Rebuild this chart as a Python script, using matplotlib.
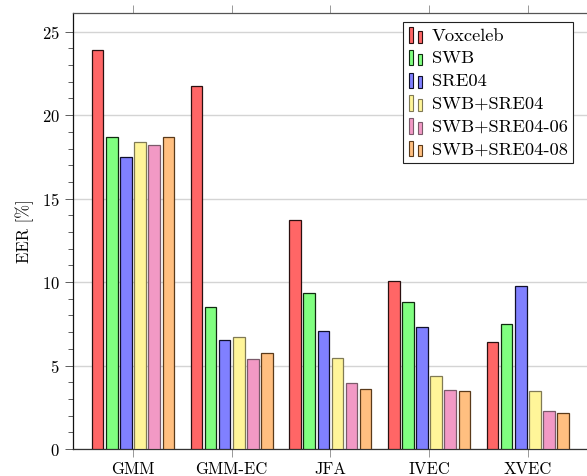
import matplotlib.pyplot as plt
from matplotlib.legend_handler import HandlerBase
from matplotlib.patches import Rectangle
import numpy as np

plt.rcParams['font.family'] = 'serif'
plt.rcParams['font.serif'] = ['cmr10', 'DejaVu Serif']
plt.rcParams['mathtext.fontset'] = 'cm'
plt.rcParams['axes.formatter.use_mathtext'] = True

# data
systems = ['GMM', 'GMM-EC', 'JFA', 'IVEC', 'XVEC']
series = ['Voxceleb', 'SWB', 'SRE04', 'SWB+SRE04', 'SWB+SRE04-06', 'SWB+SRE04-08']
voxceleb = [23.9, 21.77, 13.70, 10.05, 6.40]
swb = [18.72, 8.52, 9.33, 8.79, 7.48]
sre04 = [17.52, 6.52, 7.06, 7.30, 9.78]
swb_sre04 = [18.42, 6.68, 5.48, 4.37, 3.47]
swb_sre04_06 = [18.24, 5.38, 3.95, 3.53, 2.30]
swb_sre04_08 = [18.72, 5.76, 3.59, 3.47, 2.15]
values = [voxceleb, swb, sre04, swb_sre04, swb_sre04_06, swb_sre04_08]

colors = ['#ff6666', '#80ff80', '#8080ff', '#fff599', '#f299c5', '#ffbf80']
edges = ['#2a1010', '#102a10', '#10102a', '#807a55', '#7a5a6a', '#5a3a1a']


class TwoBars(HandlerBase):
    # pgfplots style ybar legend: two small bars
    def create_artists(self, legend, orig_handle, xdescent, ydescent,
                       width, height, fontsize, trans):
        fc = orig_handle.get_facecolor()
        ec = orig_handle.get_edgecolor()
        bw = width * 0.24
        x0 = -xdescent
        y0 = -ydescent - height * 0.15
        r1 = Rectangle((x0, y0), bw, height * 1.2, facecolor=fc,
                       edgecolor=ec, lw=0.8, transform=trans)
        r2 = Rectangle((x0 + width * 0.55, y0), bw, height * 0.9, facecolor=fc,
                       edgecolor=ec, lw=0.8, transform=trans)
        return [r1, r2]


fig = plt.figure(figsize=(5.87, 4.76), dpi=100)
ax = fig.add_axes([73 / 587, 27 / 476, 1 - 73 / 587, 436 / 476])

x = np.arange(len(systems))
pitch = 0.143
width = 0.117
handles = []
for i in range(len(series)):
    b = ax.bar(x + (i - 2.5) * pitch, values[i], width=width, color=colors[i],
               edgecolor=edges[i], linewidth=0.9, zorder=3, label=series[i])
    handles.append(b.patches[0])

ax.set_xlim(-0.608, 4.6)
ax.set_ylim(0, 26.12)
ax.set_xticks(x)
ax.set_xticklabels(systems, fontsize=12)
ax.set_yticks(range(0, 26, 5))
ax.set_yticks(range(0, 26, 1), minor=True)
ax.tick_params(axis='y', labelsize=12, direction='out', length=6, width=0.6, color='#444444')
ax.tick_params(axis='y', which='minor', direction='out', length=3.5, width=0.6, color='#444444')
ax.tick_params(axis='x', direction='out', length=5.5, width=0.6, color='#888888',
               top=True, bottom=True, labeltop=False)
ax.grid(axis='y', color='#d4d4d4', linewidth=1.0, zorder=0)
ax.set_axisbelow(True)

ax.spines['right'].set_visible(False)
ax.spines['top'].set_color('#555555')
ax.spines['left'].set_color('#111111')
ax.spines['bottom'].set_color('#333333')
for s in ax.spines.values():
    s.set_linewidth(0.9)

ax.set_ylabel('EER [%]', fontsize=12, labelpad=6)

leg = ax.legend(handles, series, loc='upper right', bbox_to_anchor=(0.973, 0.979),
                handler_map={Rectangle: TwoBars()}, fontsize=13.3,
                handlelength=0.95, handletextpad=0.3, labelspacing=0.37,
                borderpad=0.3, borderaxespad=0, frameon=True, fancybox=False,
                framealpha=1, edgecolor='#222222')
leg.get_frame().set_linewidth(0.8)

plt.savefig('out.png', dpi=100)
